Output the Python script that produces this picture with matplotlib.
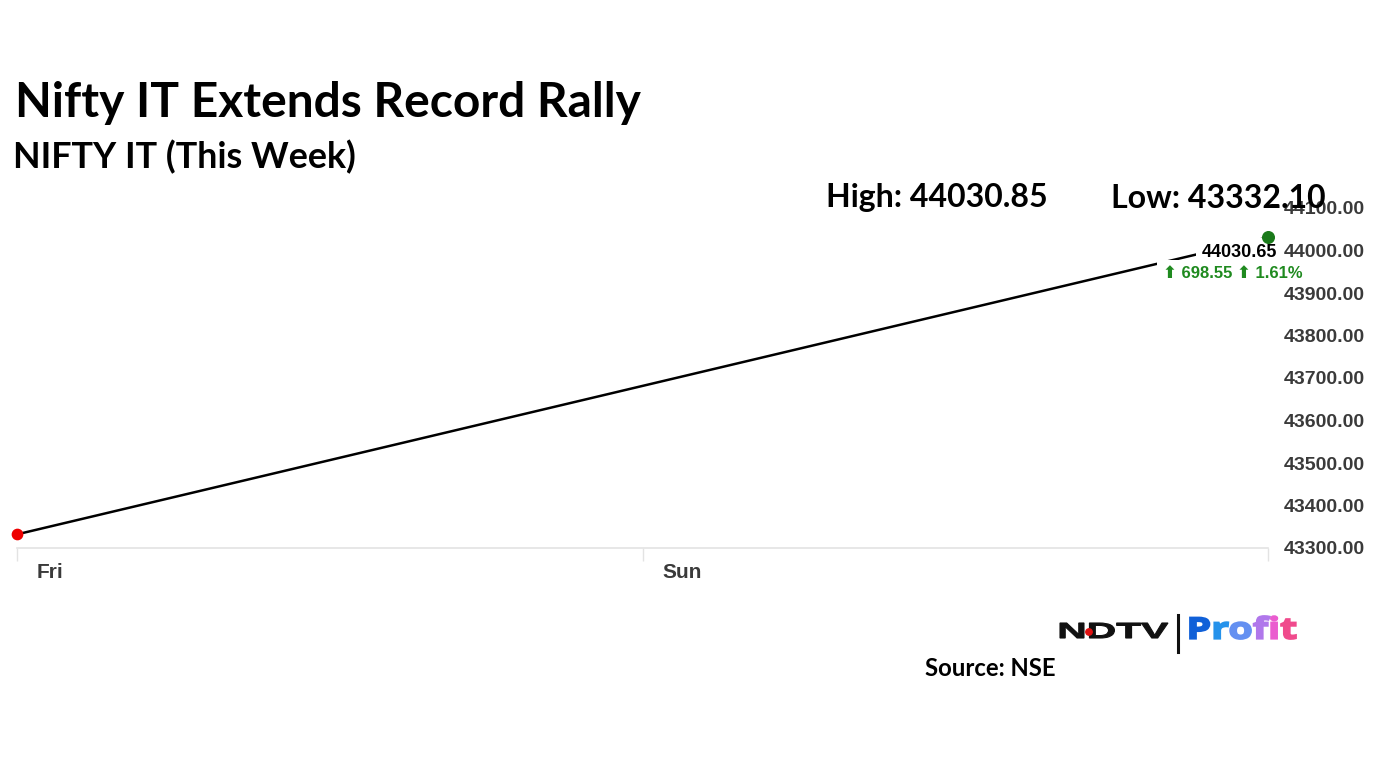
import numpy as np
import matplotlib.pyplot as plt
import matplotlib.transforms as mtransforms
from matplotlib.textpath import TextPath
from matplotlib.patches import PathPatch, Circle
from matplotlib.font_manager import FontProperties
from matplotlib.colors import LinearSegmentedColormap

W, H = 1382, 777

days = [0, 4]
day_labels = ['Fri', 'Sun', '']
day_ticks = [0, 2, 4]
prices = [43332.10, 44030.65]
y_ticks = [43300, 43400, 43500, 43600, 43700, 43800, 43900, 44000, 44100]
high, low = 44030.85, 43332.10
change, change_pct = 698.55, 1.61

fig = plt.figure(figsize=(W / 100, H / 100), dpi=100)
fig.patch.set_facecolor('white')


def fx(x):
    return x / W


def fy(y):
    return 1 - y / H


ax = fig.add_axes([fx(17), fy(548), fx(1268) - fx(17), fy(208) - fy(548)])
ax.set_xlim(0, 4)
ax.set_ylim(43300, 44100)
for s in ['top', 'left', 'right']:
    ax.spines[s].set_visible(False)
ax.spines['bottom'].set_color('#e3e3e3')
ax.spines['bottom'].set_linewidth(1.2)

ax.plot(days, prices, color='black', lw=1.8, zorder=3, clip_on=False)
ax.scatter([days[0]], [prices[0]], s=55, color='#ee0000', zorder=6, clip_on=False)
ax.scatter([days[-1]], [high], s=70, color='#1a7a1a', zorder=6, clip_on=False)

ax.yaxis.tick_right()
ax.set_yticks(y_ticks)
ax.set_yticklabels([f'{v:.2f}' for v in y_ticks], fontfamily='Liberation Sans',
                   fontweight='bold', fontsize=14, color='#3a3a3a')
ax.tick_params(axis='y', length=0, pad=11)

ax.set_xticks(day_ticks)
ax.set_xticklabels(day_labels, fontfamily='Liberation Sans', fontweight='bold',
                   fontsize=15, color='#3a3a3a', ha='left')
ax.tick_params(axis='x', length=9, color='#e3e3e3', width=1, pad=2)
off = mtransforms.ScaledTranslation(20 / 100, 0, fig.dpi_scale_trans)
for lbl in ax.get_xticklabels():
    lbl.set_transform(lbl.get_transform() + off)

# last value labels (white boxes cover the line end)
ax.text(3.789, 43996, f'{prices[-1]:.2f}', fontfamily='Liberation Sans', fontweight='bold',
        fontsize=13, color='black', ha='left', va='center', zorder=5,
        bbox=dict(facecolor='white', edgecolor='none', pad=4))
ax.text(3.664, 43947, f'\u2b06 {change:.2f} \u2b06 {change_pct:.2f}%',
        fontfamily=['Liberation Sans', 'DejaVu Sans'], fontweight='bold',
        fontsize=12, color='#1f8a1f', ha='left', va='center', zorder=5,
        bbox=dict(facecolor='white', edgecolor='none', pad=4))

# titles
title_font = 'Lato'
fig.text(fx(15), fy(103), 'Nifty IT Extends Record Rally', fontfamily=title_font,
         fontweight='bold', fontsize=34.5, va='center', ha='left')
fig.text(fx(13), fy(157), 'NIFTY IT (This Week)', fontfamily=title_font,
         fontweight='bold', fontsize=25.8, va='center', ha='left')
fig.text(fx(826), fy(198), f'High: {high:.2f}', fontfamily=title_font,
         fontweight='bold', fontsize=23, va='center', ha='left')
fig.text(fx(1111), fy(198), f'Low: {low:.2f}', fontfamily=title_font,
         fontweight='bold', fontsize=23, va='center', ha='left', zorder=1)
fig.text(fx(925), fy(669), 'Source: NSE', fontfamily=title_font, fontweight='bold',
         fontsize=17.2, va='center', ha='left')

# logo drawn in pixel space (y measured from the bottom)
lg = fig.add_axes([0, 0, 1, 1], zorder=10)
lg.set_xlim(0, W)
lg.set_ylim(0, H)
lg.axis('off')
lg.patch.set_alpha(0)

fp_logo = FontProperties(family='Liberation Sans', weight='bold')
ndtv = TextPath((0, 0), 'NDTV', size=21, prop=fp_logo)
ext = ndtv.get_extents()
sx = 108 / ext.width
sy = 15 / ext.height
tr = mtransforms.Affine2D().translate(-ext.x0, -ext.y0).scale(sx, sy).translate(1060, H - 638)
lg.add_patch(PathPatch(tr.transform_path(ndtv), facecolor='#111111', edgecolor='#111111', lw=0.8))
lg.add_patch(Circle((1089, H - 632), 3.2, color='#e01010', zorder=3))
lg.plot([1178, 1178], [H - 615, H - 652], color='#111111', lw=2.2)

# "Profit" with a blue-to-pink gradient, one colour per letter
fp_profit = FontProperties(family='Open Sans', weight='bold')
word = 'Profit'
full = TextPath((0, 0), word, size=30, prop=fp_profit)
pe = full.get_extents()
psx = 106 / pe.width
psy = 23 / pe.height
ptr = mtransforms.Affine2D().translate(-pe.x0, -pe.y0).scale(psx, psy).translate(1190, H - 639)
cmap = LinearSegmentedColormap.from_list('profit', ['#1060d8', '#2a9ef0', '#8a86f2', '#e860e0', '#f04a8c'])
for i, ch in enumerate(word):
    single = TextPath((0, 0), ch, size=30, prop=fp_profit)
    upto = TextPath((0, 0), word[:i + 1], size=30, prop=fp_profit)
    dx = upto.get_extents().x1 - single.get_extents().x1
    cp = TextPath((dx, 0), ch, size=30, prop=fp_profit)
    c = cmap(i / (len(word) - 1))
    lg.add_patch(PathPatch(ptr.transform_path(cp), facecolor=c, edgecolor=c, lw=1.3))
lg.set_xlim(0, W)
lg.set_ylim(0, H)

fig.savefig('out.png', dpi=100, facecolor='white')
